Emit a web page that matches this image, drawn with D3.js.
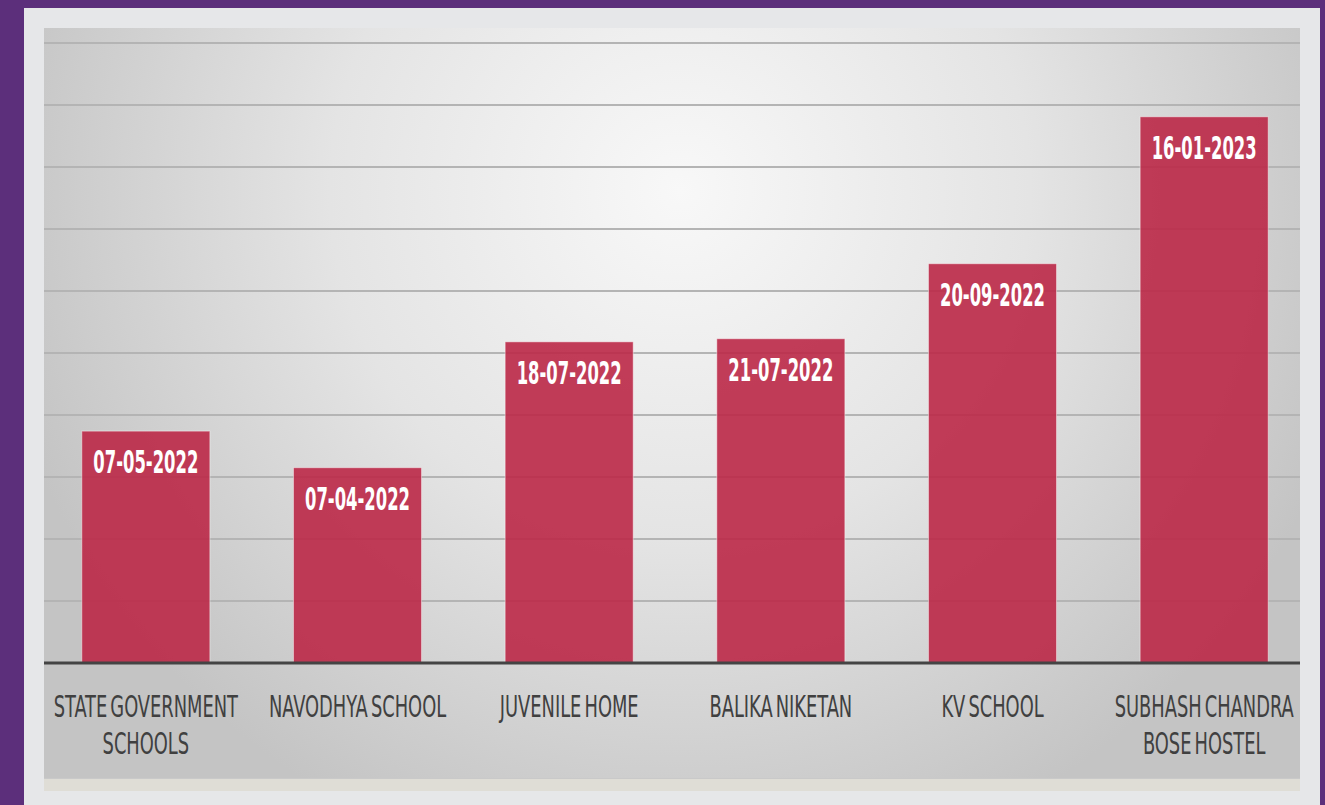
<!DOCTYPE html>
<html lang="en">
<head>
    <meta charset="UTF-8"/>
    <title>Programme dates</title>
    <script src="https://d3js.org/d3.v7.min.js"></script>
    <style>
        html, body {
            margin: 0;
            padding: 0;
            background-color: #5c2f7b; /* purple slide background */
        }
        svg {
            display: block;
        }
    </style>
</head>
<body>
    <div class="chart-container"></div>
    <script>
        var w = 1325;
        var h = 805;

        // data
        var categories = ["STATE GOVERNMENT\nSCHOOLS", "NAVODHYA SCHOOL", "JUVENILE HOME",
                          "BALIKA NIKETAN", "KV SCHOOL", "SUBHASH CHANDRA\nBOSE HOSTEL"];
        var dateLabels = ["07-05-2022", "07-04-2022", "18-07-2022", "21-07-2022", "20-09-2022", "16-01-2023"];
        var values = [3.74, 3.15, 5.18, 5.23, 6.44, 8.81];
        var yTicks = [0, 1, 2, 3, 4, 5, 6, 7, 8, 9, 10];

        var data = categories.map(function(c, i) {
            return { cat: c, label: dateLabels[i], value: values[i] };
        });

        var svg = d3.select(".chart-container")
                    .append("svg")
                    .attr("width", w)
                    .attr("height", h);

        var defs = svg.append("defs");
        var grad = defs.append("radialGradient")
            .attr("id", "panelGrad")
            .attr("gradientUnits", "userSpaceOnUse")
            .attr("cx", 680).attr("cy", 190)
            .attr("r", 700);
        grad.append("stop").attr("offset", "0%").attr("stop-color", "#f8f8f8");
        grad.append("stop").attr("offset", "50%").attr("stop-color", "#e4e4e4");
        grad.append("stop").attr("offset", "100%").attr("stop-color", "#c4c4c4");

        // light frame
        svg.append("rect")
            .attr("x", 24).attr("y", 8)
            .attr("width", 1296).attr("height", 797)
            .attr("fill", "#e6e7e9");

        // beige strip under the panel
        svg.append("rect")
            .attr("x", 44).attr("y", 778)
            .attr("width", 1256).attr("height", 13)
            .attr("fill", "#dfddd6");

        // panel
        svg.append("rect")
            .attr("x", 44).attr("y", 28)
            .attr("width", 1256).attr("height", 750)
            .attr("fill", "url(#panelGrad)");
        svg.append("line")
            .attr("x1", 44).attr("x2", 1300)
            .attr("y1", 778.5).attr("y2", 778.5)
            .attr("stroke", "#c9c9c9").attr("stroke-width", 1);

        var x = d3.scaleBand()
            .domain(categories)
            .range([40, 1310])
            .paddingInner(0.395)
            .paddingOuter(0.1975);

        var y = d3.scaleLinear()
            .domain([0, 10])
            .range([663, 43]);

        // gridlines
        svg.selectAll("line.grid")
            .data(yTicks.slice(1))
            .enter()
            .append("line")
            .attr("class", "grid")
            .attr("x1", 44).attr("x2", 1300)
            .attr("y1", function(d) { return y(d); })
            .attr("y2", function(d) { return y(d); })
            .attr("stroke", "#b4b4b4")
            .attr("stroke-width", 2);

        // bars
        svg.selectAll("rect.bar")
            .data(data)
            .enter()
            .append("rect")
            .attr("class", "bar")
            .attr("x", function(d) { return x(d.cat); })
            .attr("y", function(d) { return y(d.value); })
            .attr("width", x.bandwidth())
            .attr("height", function(d) { return y(0) - y(d.value); })
            .attr("fill", "#bb2847")
            .attr("fill-opacity", 0.9)
            .attr("stroke", "rgba(255,255,255,0.45)")
            .attr("stroke-width", 1);

        // baseline
        svg.append("line")
            .attr("x1", 44).attr("x2", 1300)
            .attr("y1", y(0)).attr("y2", y(0))
            .attr("stroke", "#444")
            .attr("stroke-width", 3);

        // value labels inside bars (condensed look via scaleX)
        svg.selectAll("text.val")
            .data(data)
            .enter()
            .append("text")
            .attr("class", "val")
            .attr("transform", function(d) {
                return "translate(" + (x(d.cat) + x.bandwidth() / 2) + "," + (y(d.value) + 42) + ") scale(0.57,1)";
            })
            .attr("text-anchor", "middle")
            .attr("font-family", "'DejaVu Sans Condensed', sans-serif")
            .attr("font-weight", "bold")
            .attr("font-size", 32)
            .attr("fill", "#fff")
            .text(function(d) { return d.label; });

        // category labels
        var cats = svg.selectAll("g.cat")
            .data(data)
            .enter()
            .append("g")
            .attr("class", "cat")
            .attr("transform", function(d) {
                return "translate(" + (x(d.cat) + x.bandwidth() / 2) + ",717)";
            });

        cats.selectAll("text")
            .data(function(d) { return d.cat.split("\n"); })
            .enter()
            .append("text")
            .attr("transform", function(d, i) { return "translate(0," + (i * 37) + ") scale(0.64,1)"; })
            .attr("text-anchor", "middle")
            .attr("font-family", "'DejaVu Sans Condensed', sans-serif")
            .attr("font-size", 31)
            .attr("word-spacing", -4)
            .attr("fill", "#404040")
            .text(function(d) { return d; });
    </script>
</body>
</html>
